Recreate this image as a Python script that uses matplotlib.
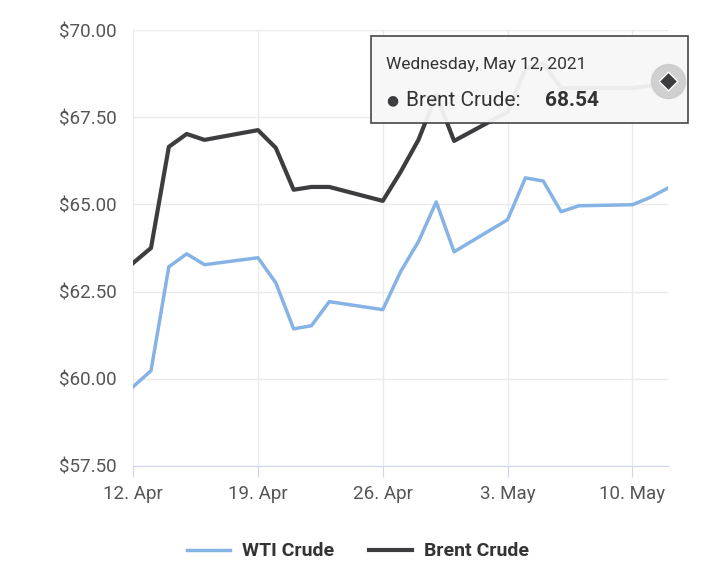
import matplotlib
matplotlib.use("Agg")
import matplotlib.pyplot as plt
import matplotlib.dates as mdates
import numpy as np

dates = ["2021-04-12","2021-04-13","2021-04-14","2021-04-15","2021-04-16",
         "2021-04-19","2021-04-20","2021-04-21","2021-04-22","2021-04-23",
         "2021-04-26","2021-04-27","2021-04-28","2021-04-29","2021-04-30",
         "2021-05-03","2021-05-04","2021-05-05","2021-05-06","2021-05-07",
         "2021-05-10","2021-05-11","2021-05-12"]
wti = [59.77,60.23,63.21,63.58,63.27,63.47,62.75,61.43,61.52,62.21,61.98,63.07,63.93,65.07,63.64,
       64.56,65.76,65.67,64.79,64.96,64.99,65.20,65.47]
brent = [63.32,63.75,66.65,67.02,66.85,67.13,66.62,65.42,65.50,65.50,65.10,65.93,66.85,68.14,66.82,
         67.65,68.88,69.05,68.34,68.34,68.34,68.40,68.54]
yticks = [57.5,60,62.5,65,67.5,70]
xtick_dates = ["2021-04-12","2021-04-19","2021-04-26","2021-05-03","2021-05-10"]
xtick_labels = ["12. Apr","19. Apr","26. Apr","3. May","10. May"]

plt.rcParams['font.family'] = ['Roboto','DejaVu Sans']
x = mdates.datestr2num(dates)
fig = plt.figure(figsize=(7.16,5.78), dpi=100)
ax = fig.add_axes([0.186,0.194,0.747,0.754])
ax.plot(x, wti, color='#85b3e6', lw=2.5, label='WTI Crude', solid_joinstyle='round')
ax.plot(x, brent, color='#3d3d40', lw=3, label='Brent Crude', solid_joinstyle='round')
ax.set_xlim(x[0], x[-1]); ax.set_ylim(57.5,70)
ax.set_yticks(yticks)
ax.set_yticklabels([f"${v:.2f}" for v in yticks], fontsize=13.5, color='#555555')
ax.set_xticks(mdates.datestr2num(xtick_dates))
ax.set_xticklabels(xtick_labels, fontsize=13.5, color='#555555')
ax.grid(True, color='#ebebeb', lw=1)
for s in ['top','right','left']:
    ax.spines[s].set_visible(False)
ax.spines['bottom'].set_color('#ccd6eb')
ax.tick_params(axis='y', length=0, pad=12)
ax.tick_params(axis='x', length=8, color='#ccd6eb', pad=6)
ax.set_axisbelow(True)
# tooltip (inside axes so marker can go on top)
ax.add_patch(plt.Rectangle((371/716, 1-123/578), 317/716, 87/578, transform=fig.transFigure,
                           facecolor='#f7f7f7', edgecolor='#3d3d40', lw=1.2, alpha=0.95,
                           zorder=10, clip_on=False))
ax.text(386/716, 1-69/578, "Wednesday, May 12, 2021", fontsize=12.5, color='#333333',
        zorder=11, transform=fig.transFigure)
ax.text(386/716, 1-104/578, "●", fontsize=10, color='#3d3d40', zorder=11, transform=fig.transFigure)
ax.text(406/716, 1-106/578, "Brent Crude:", fontsize=15, color='#333333', zorder=11, transform=fig.transFigure)
ax.text(545/716, 1-106/578, "68.54", fontsize=15, color='#333333', fontweight='bold', zorder=11,
        transform=fig.transFigure)
# hover marker
ax.scatter([x[-1]],[brent[-1]], s=600, color='#cccccc', alpha=0.9, zorder=12, clip_on=False)
ax.scatter([x[-1]],[brent[-1]], s=90, marker='D', color='#3d3d40', edgecolor='white', lw=1, zorder=13, clip_on=False)
leg = fig.legend(loc='lower center', bbox_to_anchor=(0.5, 0.0), ncol=2, frameon=False,
                 fontsize=14, handlelength=2.2, columnspacing=1.8, handletextpad=0.6)
for t in leg.get_texts():
    t.set_fontweight('bold'); t.set_color('#333333')
fig.savefig('out.png', dpi=100)
